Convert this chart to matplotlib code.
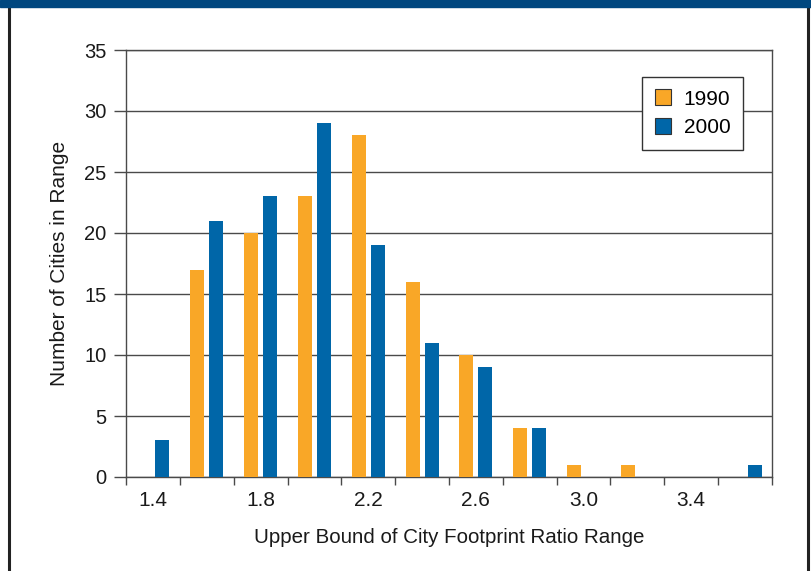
import numpy as np
import matplotlib
matplotlib.use("Agg")
from matplotlib import pyplot as plt
from matplotlib.lines import Line2D
from matplotlib.patches import Rectangle

# upper bound of the footprint ratio range, one category each
categories = ['1.4', '1.6', '1.8', '2.0', '2.2', '2.4', '2.6', '2.8', '3.0', '3.2', '3.4', '3.6']
# only every other category gets a label on the axis
tick_labels = ['1.4', '', '1.8', '', '2.2', '', '2.6', '', '3.0', '', '3.4', '']
cities_1990 = [0, 17, 20, 23, 28, 16, 10, 4, 1, 1, 0, 0]
cities_2000 = [3, 21, 23, 29, 19, 11, 9, 4, 0, 0, 0, 1]

orange = '#F9A727'
blue = '#0066A8'

plt.rcParams['font.family'] = ['Liberation Sans', 'DejaVu Sans']

fig = plt.figure(figsize=(8.12, 5.71), dpi=100)
ax = fig.add_axes([126 / 812, 1 - 477 / 571, 646 / 812, 427 / 571])

x = np.arange(len(categories))
w = 0.26
ax.bar(x - 0.175, cities_1990, w, color=orange, label='1990', zorder=3)
ax.bar(x + 0.175, cities_2000, w, color=blue, label='2000', zorder=3)

ax.set_xlim(-0.5, len(categories) - 0.5)
ax.set_ylim(0, 35)
ax.set_yticks(np.arange(0, 36, 5))
ax.yaxis.grid(True, color='#4a4a4a', linewidth=1.0, zorder=0)
ax.set_axisbelow(True)

# ticks sit on category boundaries, labels on the centers
ax.set_xticks(np.arange(-0.5, len(categories)), minor=False)
ax.set_xticklabels([])
ax.set_xticks(x, minor=True)
ax.set_xticklabels(tick_labels, minor=True)
ax.tick_params(axis='x', which='major', length=6, width=1, color='#4a4a4a', direction='out')
ax.tick_params(axis='x', which='minor', length=0, pad=10, labelsize=15, labelcolor='#1a1a1a')
ax.tick_params(axis='y', length=9, width=1, color='#4a4a4a', pad=5, labelsize=14.5, labelcolor='#1a1a1a')

for s in ax.spines.values():
    s.set_color('#4a4a4a')
    s.set_linewidth(1.0)

ax.set_xlabel('Upper Bound of City Footprint Ratio Range', fontsize=14.8, color='#1a1a1a', labelpad=13)
ax.set_ylabel('Number of Cities in Range', fontsize=15, color='#1a1a1a', labelpad=11)

leg = ax.legend(loc='upper right', bbox_to_anchor=(0.955, 0.937), borderaxespad=0,
                fancybox=False, edgecolor='#333333', fontsize=15, handlelength=0.8,
                handleheight=0.8, handletextpad=0.6, borderpad=0.6, labelspacing=0.45,
                framealpha=1)
for h in leg.legend_handles:
    h.set_edgecolor('#333333')
    h.set_linewidth(0.8)
leg.get_frame().set_linewidth(1.0)

# frame around the whole graphic: blue band on top, dark rules on the sides
fig.add_artist(Rectangle((0, 1 - 7 / 571), 1, 7 / 571, transform=fig.transFigure,
                         color='#00477F', zorder=5))
fig.add_artist(Line2D([9 / 812, 9 / 812], [0, 1], transform=fig.transFigure,
                      color='#222222', linewidth=2.2))
fig.add_artist(Line2D([808 / 812, 808 / 812], [0, 1], transform=fig.transFigure,
                      color='#222222', linewidth=2.2))

fig.savefig('out.png', dpi=100)
